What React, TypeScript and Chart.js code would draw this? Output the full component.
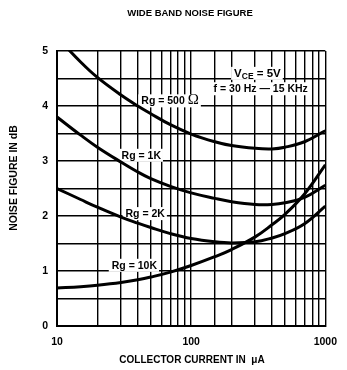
import React, { useEffect, useRef } from "react";
import { Chart, registerables } from "chart.js";

Chart.register(...registerables);

// Collector current (µA) sample points
const currents = [10, 15, 20, 30, 40, 50, 70, 100, 150, 200, 300, 400, 500, 700, 1000];
// Noise figure (dB) per source resistance
const rg500 = [5.25, 4.8, 4.52, 4.2, 4.0, 3.86, 3.66, 3.49, 3.35, 3.28, 3.23, 3.22, 3.25, 3.35, 3.55];
const rg1k = [3.8, 3.47, 3.25, 2.98, 2.8, 2.68, 2.54, 2.42, 2.32, 2.26, 2.21, 2.21, 2.24, 2.34, 2.56];
const rg2k = [2.5, 2.3, 2.16, 1.98, 1.87, 1.79, 1.68, 1.59, 1.53, 1.51, 1.53, 1.6, 1.68, 1.86, 2.18];
const rg10k = [0.69, 0.715, 0.74, 0.79, 0.84, 0.89, 0.98, 1.1, 1.26, 1.39, 1.62, 1.84, 2.03, 2.4, 2.93];

const xTickLabels = [10, 100, 1000];
const yTickLabels = [0, 1, 2, 3, 4, 5];

const titleText = "WIDE BAND NOISE FIGURE";
const xTitle = "COLLECTOR CURRENT IN  \u03bcA";
const yTitle = "NOISE FIGURE IN dB";

const FONT = "'Liberation Sans', Arial, sans-serif";

type Seg = { text: string; size: number; dy?: number; family?: string };
type Note = { x: number; y: number; segs: Seg[] };

const notes: Note[] = [
  { x: 42.5, y: 4.03, segs: [{ text: "Rg = 500 ", size: 10.5 }, { text: "\u03a9", size: 15, family: "'Liberation Serif', serif" }] },
  { x: 30.3, y: 3.04, segs: [{ text: "Rg = 1K", size: 10.5 }] },
  { x: 32.4, y: 1.98, segs: [{ text: "Rg = 2K", size: 10.5 }] },
  { x: 25.6, y: 1.04, segs: [{ text: "Rg = 10K", size: 10.5 }] },
  { x: 209, y: 4.53, segs: [{ text: "V", size: 11.5 }, { text: "CE", size: 8.5, dy: 2.5 }, { text: " = 5V", size: 11.5 }] },
  { x: 147, y: 4.25, segs: [{ text: "f = 30 Hz \u2014 15 KHz", size: 10.5 }] },
];

const textPlugin = {
  id: "textPlugin",
  beforeDatasetsDraw(chart: any) {
    const ctx = chart.ctx as CanvasRenderingContext2D;
    const xs = chart.scales.x;
    const ys = chart.scales.y;
    ctx.save();
    ctx.textBaseline = "alphabetic";
    ctx.textAlign = "left";
    notes.forEach((n) => {
      const px = xs.getPixelForValue(n.x);
      const py = ys.getPixelForValue(n.y);
      let w = 0;
      const widths = n.segs.map((s) => {
        ctx.font = `${s.family ? "" : "bold "}${s.size}px ${s.family || FONT}`;
        const m = ctx.measureText(s.text).width;
        w += m;
        return m;
      });
      ctx.fillStyle = "#fff";
      ctx.fillRect(px - 3, py - 10, w + 5, 13);
      let cx = px;
      n.segs.forEach((s, i) => {
        ctx.font = `${s.family ? "" : "bold "}${s.size}px ${s.family || FONT}`;
        ctx.fillStyle = "#000";
        ctx.fillText(s.text, cx, py + (s.dy || 0));
        cx += widths[i];
      });
    });
    ctx.restore();
  },
  afterDraw(chart: any) {
    const ctx = chart.ctx as CanvasRenderingContext2D;
    ctx.save();
    ctx.fillStyle = "#000";
    ctx.textAlign = "center";
    ctx.textBaseline = "middle";
    ctx.font = `bold 9.5px ${FONT}`;
    ctx.fillText(titleText, 190, 13);
    ctx.font = `bold 10px ${FONT}`;
    ctx.fillText(xTitle, 192, 360);
    ctx.translate(14.5, 178);
    ctx.rotate(-Math.PI / 2);
    ctx.font = `bold 10.5px ${FONT}`;
    ctx.fillText(yTitle, 0, 0);
    ctx.restore();
  },
};

const mk = (vals: number[]) => ({
  data: currents.map((c, i) => ({ x: c, y: vals[i] })),
  borderColor: "#000",
  borderWidth: 3,
  pointRadius: 0,
  fill: false,
  tension: 0.4,
  clip: 0,
});

export default function App() {
  const ref = useRef<HTMLCanvasElement | null>(null);
  useEffect(() => {
    if (!ref.current) return;
    const tickFont = { family: FONT, weight: "bold" as const, size: 10.5 };
    const chart = new Chart(ref.current, {
      type: "line",
      data: { datasets: [mk(rg500), mk(rg1k), mk(rg2k), mk(rg10k)] },
      options: {
        responsive: false,
        animation: false,
        parsing: false as any,
        layout: { padding: { left: 0, right: 16, top: 51, bottom: 0 } },
        plugins: { legend: { display: false }, title: { display: false }, tooltip: { enabled: false } },
        scales: {
          x: {
            type: "logarithmic",
            min: 10,
            max: 1000,
            afterFit: (s: any) => {
              s.height = 44;
            },
            grid: { color: "#000", lineWidth: 1.4, drawTicks: false },
            border: { color: "#000", width: 2 },
            ticks: {
              autoSkip: false,
              maxRotation: 0,
              minRotation: 0,
              padding: 10,
              color: "#000",
              font: tickFont,
              callback: (v: any) => {
                const n = Number(v);
                const hit = xTickLabels.find((t) => Math.abs(t - n) < 1e-6);
                return hit !== undefined ? String(hit) : "";
              },
            },
          },
          y: {
            type: "linear",
            min: 0,
            max: 5,
            afterFit: (s: any) => {
              s.width = 57;
            },
            grid: { color: "#000", lineWidth: 1.4, drawTicks: false },
            border: { color: "#000", width: 2 },
            ticks: {
              stepSize: 0.5,
              padding: 9,
              color: "#000",
              font: tickFont,
              callback: (v: any) => {
                const n = Number(v);
                const hit = yTickLabels.find((t) => Math.abs(t - n) < 1e-6);
                return hit !== undefined ? String(hit) : "";
              },
            },
          },
        },
      },
      plugins: [textPlugin],
    });
    return () => chart.destroy();
  }, []);
  return (
    <div style={{ position: "fixed", left: 0, top: 0, width: 347, height: 370, background: "#fff" }}>
      <canvas ref={ref} width={347} height={370} />
    </div>
  );
}
